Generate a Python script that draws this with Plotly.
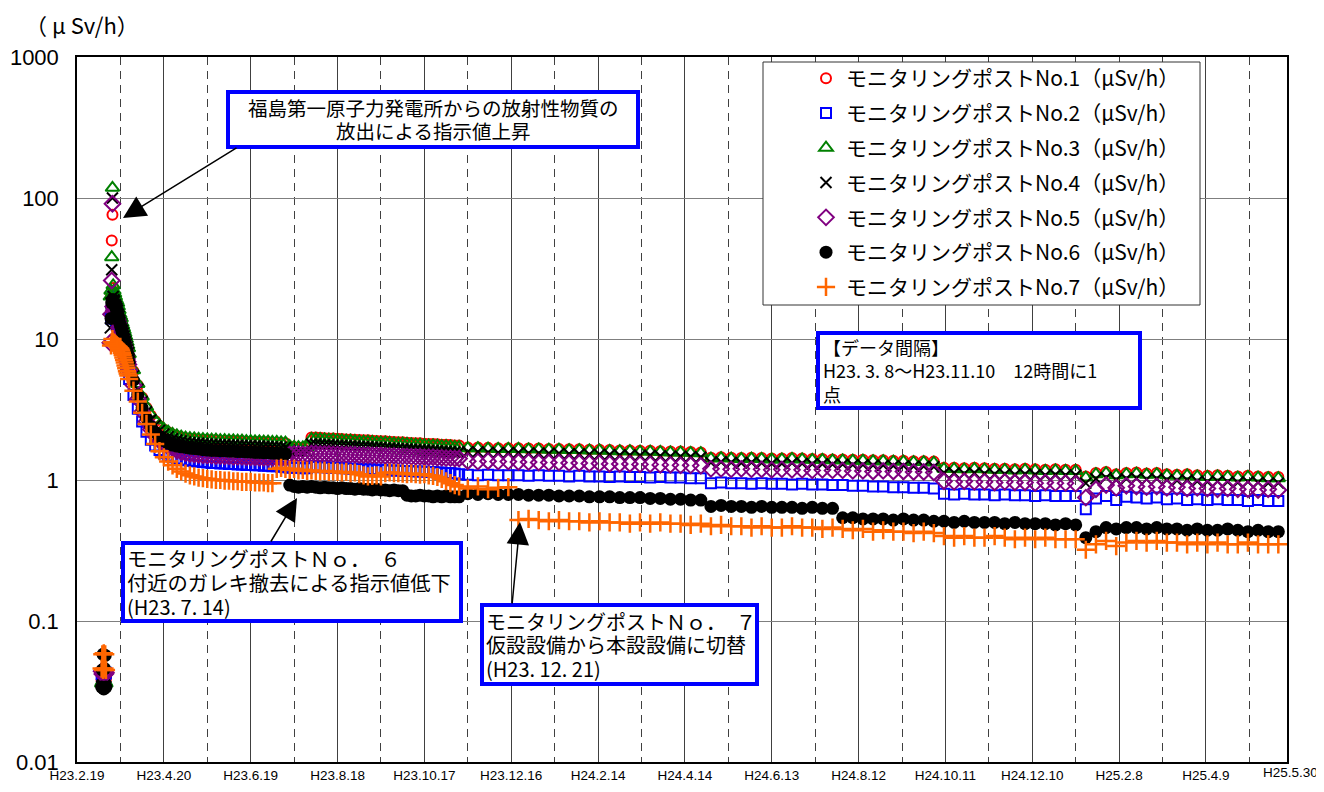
import plotly.graph_objects as go
import pandas as pd

# ---------------- dates (x categories) ----------------
EARLY_DATES = pd.date_range('2011-03-08 00:00', '2011-03-26 12:00', freq='12h')   # 38 points, 12h
DENSE_DATES = pd.date_range('2011-03-27', '2011-11-10', freq='3D')                # 77 points
WEEKLY_DATES = pd.date_range('2011-11-16', '2013-05-29', freq='7D')               # 81 points

TICK_DATES = ['2011-02-19', '2011-04-20', '2011-06-19', '2011-08-18', '2011-10-17', '2011-12-16',
              '2012-02-14', '2012-04-14', '2012-06-13', '2012-08-12', '2012-10-11', '2012-12-10',
              '2013-02-08', '2013-04-09']
TICK_LABELS = ['H23.2.19', 'H23.4.20', 'H23.6.19', 'H23.8.18', 'H23.10.17', 'H23.12.16',
               'H24.2.14', 'H24.4.14', 'H24.6.13', 'H24.8.12', 'H24.10.11', 'H24.12.10',
               'H25.2.8', 'H25.4.9']
LAST_LABEL = 'H25.5.30'
MINOR_DATES = ['2011-03-21', '2011-05-20', '2011-07-19', '2011-09-17', '2011-11-16', '2012-01-15',
               '2012-03-15', '2012-05-14', '2012-07-13', '2012-09-11', '2012-11-10', '2013-01-09',
               '2013-03-10', '2013-05-09']
Y_TICKS = [0.01, 0.1, 1, 10, 100, 1000]
Y_LABELS = ['0.01', '0.1', '1', '10', '100', '1000']

N = None
# ---------------- No.1 ----------------
EARLY_1 = [0.038, 0.039, 0.038, 0.040, 0.039, 0.038, 0.039, N, N, N, N, N, N, 20, 50, 76,
           23, 21, 20.5, 19.5, 18.5, 18, 17.5, 16.5, 15.5, 14.5, 14, 13.5, 12.5, 12, 11.5, 11, 10.5, 10, 9.6, 9.2, 8.8, 8.4]
DENSE_1 = [7.6, 5.9, 4.7, 3.85, 3.25, 2.87, 2.62, 2.42, 2.28, 2.18,
           2.1, 2.05, 2.01, 1.98, 1.96, 1.95, 1.94, 1.93, 1.92, 1.91,
           1.91, 1.9, 1.9, 1.89, 1.89, 1.88, 1.88, 1.87, 1.87, 1.86,
           1.86, 1.85, 1.85, 1.84, 1.84, 1.83, 1.82,
           1.73, 1.71, 1.7, 1.69, 1.69,
           2.0, 2.0, 1.99, 1.98, 1.97, 1.97, 1.96, 1.95, 1.94, 1.94,
           1.93, 1.92, 1.91, 1.91, 1.9, 1.89, 1.88, 1.88, 1.87, 1.86,
           1.85, 1.85, 1.84, 1.83, 1.82, 1.82, 1.81, 1.8, 1.8, 1.79,
           1.78, 1.78, 1.77, 1.76, 1.76]
WEEKLY_1 = [1.7, 1.7, 1.69, 1.68, 1.68,
            1.68, 1.67, 1.67, 1.66, 1.66, 1.65, 1.65, 1.64,
            1.64, 1.63, 1.62, 1.62, 1.61, 1.61, 1.6, 1.59, 1.59, 1.58, 1.57,
            1.44, 1.45, 1.44, 1.43, 1.44, 1.43, 1.42, 1.42, 1.43, 1.42, 1.41, 1.41, 1.4,
            1.4, 1.39, 1.39, 1.38, 1.38, 1.37, 1.37, 1.36, 1.36, 1.35,
            1.22, 1.22, 1.21, 1.22, 1.21, 1.2, 1.2, 1.19, 1.2, 1.19, 1.18, 1.19, 1.18, 1.18,
            1.06,
            1.12, 1.14, 1.1, 1.12, 1.13, 1.11, 1.12, 1.1, 1.09, 1.1, 1.08, 1.07, 1.08, 1.07, 1.06, 1.07, 1.06, 1.05, 1.05]

# ---------------- No.2 ----------------
EARLY_2 = [0.042, 0.041, 0.043, 0.042, 0.041, 0.042, 0.043, N, N, N, N, N, N, 14, 16, 20,
           17, 15.5, 14.5, 14, 13.5, 13, 12.5, 12, 11.2, 10.5, 10, 9.7, 9, 8.7, 8.3, 8, 7.6, 7.3, 7, 6.6, 6.3, 6.0]
DENSE_2 = [5.2, 4.0, 3.2, 2.6, 2.2, 1.93, 1.76, 1.63, 1.55, 1.49,
           1.45, 1.42, 1.4, 1.38, 1.37, 1.36, 1.35, 1.34, 1.33, 1.32,
           1.32, 1.31, 1.31, 1.3, 1.3, 1.29, 1.29, 1.28, 1.28, 1.27,
           1.27, 1.26, 1.26, 1.25, 1.25, 1.24, 1.23,
           1.22, 1.22, 1.22, 1.21, 1.21,
           1.24, 1.24, 1.23, 1.23, 1.22, 1.22, 1.22, 1.21, 1.21, 1.2,
           1.2, 1.2, 1.19, 1.19, 1.19, 1.18, 1.18, 1.18, 1.17, 1.17,
           1.17, 1.16, 1.16, 1.16, 1.15, 1.15, 1.15, 1.14, 1.14, 1.13,
           1.13, 1.12, 1.12, 1.11, 1.1]
WEEKLY_2 = [1.09, 1.08, 1.09, 1.08, 1.08,
            1.08, 1.07, 1.08, 1.07, 1.07, 1.06, 1.07, 1.06,
            1.06, 1.05, 1.06, 1.05, 1.05, 1.04, 1.05, 1.04, 1.04, 1.03, 1.03,
            0.95, 0.96, 0.95, 0.95, 0.94, 0.95, 0.94, 0.94, 0.93, 0.94, 0.93, 0.93, 0.92,
            0.92, 0.91, 0.91, 0.9, 0.9, 0.89, 0.89, 0.88, 0.88, 0.87,
            0.8, 0.79, 0.8, 0.79, 0.79, 0.78, 0.79, 0.78, 0.78, 0.77, 0.78, 0.77, 0.77, 0.77,
            0.62,
            0.74, 0.77, 0.72, 0.76, 0.75, 0.74, 0.75, 0.73, 0.74, 0.72, 0.73, 0.72, 0.73, 0.72, 0.72, 0.71, 0.72, 0.71, 0.71]

# ---------------- No.3 ----------------
EARLY_3 = [0.036, 0.037, 0.036, 0.035, 0.036, 0.037, 0.036, N, N, N, N, N, 20, 22, 38, 118,
           24, 22, 21, 20, 19, 18.5, 18, 17, 16, 15, 14.5, 14, 13, 12.5, 12, 11.5, 11, 10.5, 10, 9.5, 9, 8.6]
DENSE_3 = [7.8, 6.0, 4.8, 3.9, 3.3, 2.9, 2.65, 2.45, 2.3, 2.2,
           2.12, 2.07, 2.03, 2.0, 1.98, 1.97, 1.96, 1.95, 1.94, 1.93,
           1.93, 1.92, 1.92, 1.91, 1.91, 1.9, 1.9, 1.89, 1.89, 1.88,
           1.88, 1.87, 1.87, 1.86, 1.86, 1.85, 1.84,
           1.74, 1.72, 1.71, 1.7, 1.7,
           1.96, 1.96, 1.95, 1.94, 1.93, 1.93, 1.92, 1.91, 1.9, 1.9,
           1.89, 1.88, 1.87, 1.87, 1.86, 1.85, 1.84, 1.84, 1.83, 1.82,
           1.81, 1.81, 1.8, 1.79, 1.78, 1.78, 1.77, 1.76, 1.76, 1.75,
           1.74, 1.74, 1.73, 1.72, 1.72]
WEEKLY_3 = [1.68, 1.68, 1.67, 1.66, 1.66,
            1.66, 1.65, 1.65, 1.64, 1.64, 1.63, 1.63, 1.62,
            1.62, 1.61, 1.6, 1.6, 1.59, 1.59, 1.58, 1.57, 1.57, 1.56, 1.55,
            1.42, 1.43, 1.42, 1.41, 1.42, 1.41, 1.4, 1.4, 1.41, 1.4, 1.39, 1.39, 1.38,
            1.38, 1.37, 1.37, 1.36, 1.36, 1.35, 1.35, 1.34, 1.34, 1.33,
            1.2, 1.2, 1.19, 1.2, 1.19, 1.18, 1.18, 1.17, 1.18, 1.17, 1.16, 1.17, 1.16, 1.16,
            1.04,
            1.1, 1.12, 1.08, 1.1, 1.11, 1.09, 1.1, 1.08, 1.07, 1.08, 1.06, 1.05, 1.06, 1.05, 1.04, 1.05, 1.04, 1.03, 1.03]

# ---------------- No.4 ----------------
EARLY_4 = [0.040, 0.041, 0.040, 0.039, 0.041, 0.040, 0.040, N, N, N, N, N, 12, 18, 31, 100,
           20, 19, 18.5, 17.5, 17, 16.5, 16, 15, 14.5, 13.5, 13, 12.5, 12, 11.5, 11, 10.5, 10, 9.6, 9.2, 8.8, 8.4, 8.0]
DENSE_4 = [7.2, 5.5, 4.4, 3.6, 3.05, 2.67, 2.44, 2.25, 2.12, 2.03,
           1.96, 1.92, 1.89, 1.86, 1.84, 1.83, 1.82, 1.81, 1.8, 1.79,
           1.79, 1.78, 1.78, 1.77, 1.77, 1.76, 1.76, 1.75, 1.75, 1.74,
           1.74, 1.73, 1.73, 1.72, 1.72, 1.71, 1.7,
           1.62, 1.6, 1.59, 1.58, 1.58,
           1.8, 1.8, 1.79, 1.78, 1.78, 1.77, 1.76, 1.76, 1.75, 1.74,
           1.74, 1.73, 1.72, 1.72, 1.71, 1.7, 1.7, 1.69, 1.68, 1.68,
           1.67, 1.66, 1.66, 1.65, 1.64, 1.64, 1.63, 1.62, 1.62, 1.61,
           1.6, 1.6, 1.59, 1.58, 1.58]
WEEKLY_4 = [1.58, 1.58, 1.57, 1.56, 1.56,
            1.56, 1.55, 1.55, 1.54, 1.54, 1.53, 1.53, 1.52,
            1.52, 1.51, 1.5, 1.5, 1.49, 1.49, 1.48, 1.47, 1.47, 1.46, 1.45,
            1.33, 1.34, 1.33, 1.32, 1.33, 1.32, 1.31, 1.31, 1.32, 1.31, 1.3, 1.3, 1.29,
            1.29, 1.28, 1.28, 1.27, 1.27, 1.26, 1.26, 1.25, 1.25, 1.24,
            1.12, 1.12, 1.11, 1.12, 1.11, 1.1, 1.1, 1.09, 1.1, 1.09, 1.08, 1.09, 1.08, 1.08,
            0.95,
            1.02, 1.04, 1.0, 1.02, 1.03, 1.01, 1.02, 1.0, 0.99, 1.0, 0.98, 0.97, 0.98, 0.97, 0.96, 0.97, 0.96, 0.95, 0.95]

# ---------------- No.5 ----------------
EARLY_5 = [0.044, 0.042, 0.045, 0.043, 0.044, 0.042, 0.043, N, N, N, N, N, 9.4, 15, 26, 91,
           17, 16, 15.5, 15, 14.5, 14, 13.5, 13, 12, 11.5, 11, 10.5, 10, 9.6, 9.2, 8.8, 8.4, 8.0, 7.6, 7.2, 6.9, 6.6]
DENSE_5 = [6.0, 4.7, 3.75, 3.05, 2.6, 2.28, 2.05, 1.9, 1.8, 1.73,
           1.68, 1.62, 1.58, 1.55, 1.53, 1.52, 1.51, 1.5, 1.49, 1.49,
           1.48, 1.48, 1.47, 1.47, 1.46, 1.46, 1.46, 1.45, 1.45, 1.45,
           1.44, 1.44, 1.44, 1.43, 1.43, 1.43, 1.42,
           1.52, 1.53, 1.53, 1.52, 1.52,
           1.54, 1.54, 1.53, 1.53, 1.53, 1.52, 1.52, 1.52, 1.51, 1.51,
           1.51, 1.5, 1.5, 1.5, 1.49, 1.49, 1.49, 1.48, 1.48, 1.48,
           1.47, 1.47, 1.47, 1.46, 1.46, 1.46, 1.45, 1.45, 1.45, 1.44,
           1.44, 1.43, 1.43, 1.42, 1.42]
WEEKLY_5 = [1.36, 1.35, 1.36, 1.35, 1.35,
            1.34, 1.34, 1.33, 1.33, 1.33, 1.32, 1.32, 1.31,
            1.31, 1.3, 1.3, 1.3, 1.29, 1.29, 1.28, 1.28, 1.27, 1.27, 1.26,
            1.2, 1.2, 1.19, 1.2, 1.19, 1.19, 1.18, 1.19, 1.18, 1.18, 1.17, 1.18, 1.17,
            1.17, 1.16, 1.16, 1.15, 1.16, 1.15, 1.15, 1.14, 1.14, 1.13,
            0.98, 0.97, 0.98, 0.97, 0.97, 0.96, 0.97, 0.96, 0.96, 0.95, 0.96, 0.95, 0.95, 0.94,
            0.75,
            0.86, 0.92, 0.88, 0.91, 0.9, 0.89, 0.9, 0.88, 0.89, 0.87, 0.88, 0.87, 0.86, 0.87, 0.86, 0.86, 0.85, 0.86, 0.85]

# ---------------- No.6 ----------------
EARLY_6 = [0.034, 0.045, 0.058, 0.033, 0.046, 0.057, 0.034, N, N, N, N, N, N, 14, 18, 19,
           19, 18, 17.5, 17, 16.5, 16, 15, 14.5, 14, 13, 12.5, 12, 11.5, 11, 10.5, 10, 9.5, 9, 8.5, 8.2, 7.8, 7.5]
DENSE_6 = [6.8, 5.1, 4.0, 3.25, 2.75, 2.4, 2.18, 2.01, 1.9, 1.82,
           1.77, 1.74, 1.72, 1.7, 1.68, 1.67, 1.66, 1.64, 1.63, 1.62,
           1.62, 1.61, 1.61, 1.6, 1.6, 1.59, 1.59, 1.58, 1.58, 1.57,
           1.57, 1.56, 1.56, 1.55, 1.55, 1.54, 1.53,
           0.92, 0.9, 0.89, 0.9, 0.89,
           0.9, 0.89, 0.88, 0.89, 0.88, 0.88, 0.87, 0.88, 0.87, 0.87,
           0.86, 0.87, 0.86, 0.86, 0.85, 0.86, 0.85, 0.85, 0.84, 0.85,
           0.84, 0.84, 0.78, 0.77, 0.77, 0.78, 0.77, 0.77, 0.76, 0.77,
           0.76, 0.77, 0.76, 0.76, 0.76]
WEEKLY_6 = [0.8, 0.79, 0.8, 0.79, 0.79,
            0.79, 0.78, 0.78, 0.78, 0.77, 0.77, 0.77, 0.76,
            0.76, 0.76, 0.75, 0.75, 0.75, 0.74, 0.74, 0.73, 0.73, 0.72, 0.72,
            0.65, 0.66, 0.65, 0.65, 0.64, 0.65, 0.64, 0.64, 0.64, 0.63, 0.64, 0.63, 0.63,
            0.54, 0.54, 0.53, 0.53, 0.53, 0.52, 0.53, 0.52, 0.52, 0.51,
            0.51, 0.5, 0.51, 0.5, 0.5, 0.5, 0.49, 0.5, 0.49, 0.49, 0.49, 0.48, 0.49, 0.48,
            0.39,
            0.43, 0.46, 0.45, 0.46, 0.46, 0.45, 0.46, 0.45, 0.45, 0.44, 0.45, 0.44, 0.44, 0.45, 0.44, 0.43, 0.44, 0.43, 0.43]

# ---------------- No.7 ----------------
EARLY_7 = [0.046, 0.058, 0.045, 0.059, 0.046, 0.058, 0.045, N, N, N, N, N, N, 9, 9.5, 10,
           9.5, 9.4, 9.3, 9.2, 9.1, 9.0, 8.9, 8.8, 8.7, 8.6, 8.5, 8.3, 8.0, 7.7, 7.4, 7.1, 6.8, 6.5, 6.2, 5.9, 5.7, 5.5]
DENSE_7 = [5.2, 4.3, 3.6, 3.0, 2.5, 2.1, 1.8, 1.6, 1.45, 1.35,
           1.27, 1.2, 1.15, 1.11, 1.08, 1.06, 1.04, 1.03, 1.02, 1.01,
           1.0, 1.0, 0.99, 0.99, 0.98, 0.98, 0.97, 0.97, 0.97, 0.96,
           0.96, 0.96, 0.95, 0.95,
           1.2, 1.22, 1.2, 1.18, 1.2, 1.17, 1.18, 1.16, 1.17, 1.16,
           1.15, 1.16, 1.14, 1.15, 1.14, 1.13, 1.14, 1.12, 1.13, 1.1,
           1.08, 1.06, 1.07, 1.08, 1.06,
           1.12, 1.13, 1.12, 1.12, 1.11, 1.1, 1.11, 1.1, 1.09, 1.1,
           1.08, 1.07, 1.05, 1.02, 0.98, 0.95, 0.92, 0.9]
WEEKLY_7 = [0.87, 0.9, 0.86, 0.88, 0.89,
            0.52, 0.53, 0.52, 0.51, 0.52, 0.51, 0.51, 0.5,
            0.51, 0.5, 0.5, 0.49, 0.5, 0.49, 0.5, 0.49, 0.49, 0.48, 0.49,
            0.47, 0.48, 0.47, 0.47, 0.46, 0.47, 0.46, 0.46, 0.47, 0.46, 0.46, 0.45, 0.46,
            0.45, 0.44, 0.45, 0.43, 0.44, 0.43, 0.43, 0.42, 0.43, 0.42,
            0.4, 0.39, 0.4, 0.39, 0.39, 0.4, 0.39, 0.38, 0.39, 0.38, 0.39, 0.38, 0.38, 0.38,
            0.32,
            0.35, 0.37, 0.34, 0.36, 0.37, 0.36, 0.37, 0.36, 0.36, 0.35, 0.36, 0.35, 0.36, 0.35, 0.35, 0.36, 0.35, 0.35, 0.35]

SERIES_NAMES = ['モニタリングポストNo.%d（μSv/h）' % i for i in range(1, 8)]
SERIES_VALUES = [
    (EARLY_1, DENSE_1, WEEKLY_1), (EARLY_2, DENSE_2, WEEKLY_2), (EARLY_3, DENSE_3, WEEKLY_3),
    (EARLY_4, DENSE_4, WEEKLY_4), (EARLY_5, DENSE_5, WEEKLY_5), (EARLY_6, DENSE_6, WEEKLY_6),
    (EARLY_7, DENSE_7, WEEKLY_7),
]

NOTE_RELEASE = ['福島第一原子力発電所からの放射性物質の', '放出による指示値上昇']
NOTE_INTERVAL = ['【データ間隔】', 'H23. 3. 8～H23.11.10　12時間に1', '点']
NOTE_NO6 = ['モニタリングポストＮｏ．　６', '付近のガレキ撤去による指示値低下', '(H23. 7. 14)']
NOTE_NO7 = ['モニタリングポストＮｏ．　７', '仮設設備から本設設備に切替', '(H23. 12. 21)']

# ---------------- styles ----------------
STYLES = [
    dict(symbol='circle-open', color='#FF0000', size=10, lw=2),
    dict(symbol='square-open', color='#0000FF', size=10, lw=2),
    dict(symbol='triangle-up-open', color='#008000', size=12, lw=2),
    dict(symbol='x-thin-open', color='#000000', size=11, lw=2),
    dict(symbol='diamond-open', color='#800080', size=12, lw=2),
    dict(symbol='circle', color='#000000', size=13, lw=0),
    dict(symbol='cross-thin-open', color='#FF6600', size=13, lw=2.5),
]

JP = 'Noto Sans CJK JP'
NUM = 'Liberation Sans'
# the page body has an 8px margin, so the figure is drawn 8px in from the window corner
OFF = 8
W, H = 1324 - OFF, 792 - OFF
PLOT_X0, PLOT_X1, PLOT_Y0, PLOT_Y1 = 77, 1287, 57, 762   # plot area in window pixels
L, T = PLOT_X0 - OFF, PLOT_Y0 - OFF
R, B = W - (PLOT_X1 - OFF), H - (PLOT_Y1 - OFF)
PW, PH = PLOT_X1 - PLOT_X0, PLOT_Y1 - PLOT_Y0


def px(x):
    return (x - PLOT_X0) / PW


def py(y):
    return (PLOT_Y1 - y) / PH


x_all = list(EARLY_DATES) + list(DENSE_DATES) + list(WEEKLY_DATES)

fig = go.Figure()
for i, (name, vals, st) in enumerate(zip(SERIES_NAMES, SERIES_VALUES, STYLES)):
    y_all = list(vals[0]) + list(vals[1]) + list(vals[2])
    fig.add_trace(go.Scatter(
        x=x_all, y=y_all, mode='markers', name=name, legendgroup='g%d' % i,
        marker=dict(symbol=st['symbol'], size=st['size'], color=st['color'],
                    line=dict(color=st['color'], width=st['lw'])),
    ))


def rect(x0, y0, x1, y1, color, width):
    return dict(type='rect', xref='paper', yref='paper', x0=px(x0), x1=px(x1), y0=py(y1), y1=py(y0),
                line=dict(color=color, width=width), fillcolor='white', layer='above')


def label(x, y, s, size, xanchor='left', family=JP, align='left'):
    return dict(xref='paper', yref='paper', x=px(x), y=py(y), text=s, showarrow=False,
                xanchor=xanchor, yanchor='middle', borderpad=0, align=align,
                font=dict(size=size, family=family, color='black'))


def block(x, y, lines, sizes, base, xanchor='left', align='left'):
    # one annotation per box; the base size sets the line pitch (1.3 x base)
    txt = '<br>'.join('<span style="font-size:%.1fpx">%s</span>' % (sz, ln) for ln, sz in zip(lines, sizes))
    return label(x, y, txt, base, xanchor, JP, align)


def arrow(tipx, tipy, tailx, taily):
    return dict(xref='paper', yref='paper', x=px(tipx), y=py(tipy), ax=tailx - tipx, ay=taily - tipy,
                axref='pixel', ayref='pixel', text='', showarrow=True, arrowhead=2, arrowsize=3,
                arrowwidth=1.5, arrowcolor='black')


BLUE = '#0000FF'
shapes = [
    rect(763, 62, 1200, 305, '#333333', 1),       # legend frame
    rect(228, 92, 638, 147, BLUE, 4),
    rect(818, 333, 1140, 408, BLUE, 4),
    rect(123, 543, 461, 621, BLUE, 4),
    rect(482, 605, 757, 684, BLUE, 4),
]

annotations = [
    label(24, 24, '（ μ Sv/h）', 22),
    block(433, 119.5, NOTE_RELEASE, [19.5, 19.5], 17.7, 'center', 'center'),
    block(822, 370.7, NOTE_INTERVAL, [18, 18, 18], 18),
    block(126, 582.3, NOTE_NO6, [20.3, 20.3, 20], 18.5),
    block(485, 644.7, NOTE_NO7, [20, 20, 20], 18),
    label(1290, 773, LAST_LABEL, 13.5, 'center', NUM),
    arrow(123, 218, 238, 147),
    arrow(297, 498, 270, 543),
    arrow(520, 522, 512, 605),
]

fig.update_layout(
    width=W, height=H,
    margin=dict(l=L, r=R, t=T, b=B, autoexpand=False),
    paper_bgcolor='white', plot_bgcolor='white',
    showlegend=True,
    legend=dict(x=px(806), y=py(58), xanchor='left', yanchor='top', bgcolor='rgba(0,0,0,0)',
                borderwidth=0, font=dict(size=21, family=JP, color='black'),
                traceorder='grouped', tracegroupgap=4.5, itemwidth=30),
    xaxis=dict(type='date', range=['2011-02-19', '2013-06-04'], automargin=False,
               tickmode='array', tickvals=TICK_DATES, ticktext=TICK_LABELS, ticks='',
               tickfont=dict(size=13.5, family=NUM, color='black'), tickangle=0,
               showgrid=True, gridcolor='#404040', gridwidth=1,
               minor=dict(tickmode='array', tickvals=MINOR_DATES, showgrid=True, griddash='8px,6px',
                          gridcolor='#404040', gridwidth=1, ticks=''),
               showline=True, linecolor='black', linewidth=1.5, mirror=True, zeroline=False),
    yaxis=dict(type='log', range=[-2, 3], automargin=False, tickmode='array', tickvals=Y_TICKS,
               ticktext=Y_LABELS, ticks='',
               tickfont=dict(size=22, family=NUM, color='black'), ticklabelstandoff=12,
               showgrid=True, gridcolor='#7f7f7f', gridwidth=1,
               showline=True, linecolor='black', linewidth=1.5, mirror=True, zeroline=False),
    shapes=shapes,
    annotations=annotations,
)

fig.write_html('out.html')
